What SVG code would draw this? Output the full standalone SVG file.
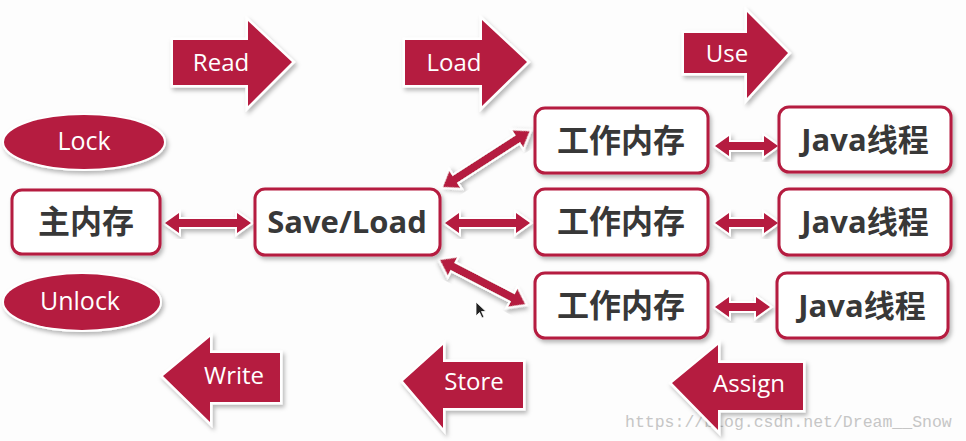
<svg xmlns="http://www.w3.org/2000/svg" width="966" height="441" viewBox="0 0 966 441">
<defs>
<filter id="sh" x="-20%" y="-20%" width="140%" height="150%">
<feDropShadow dx="2" dy="3" stdDeviation="2" flood-color="#000" flood-opacity="0.28"/>
</filter>
<style>
.bg{fill:#fdfdfd}
.big{fill:#b51b3f;stroke:#fff;stroke-width:5;stroke-linejoin:miter;paint-order:stroke;filter:url(#sh)}
.ell{fill:#b51b3f;stroke:#fff;stroke-width:4;paint-order:stroke;filter:url(#sh)}
.dbl{fill:#b51b3f;stroke:#fff;stroke-width:4;stroke-linejoin:miter;paint-order:stroke;filter:url(#sh)}
.box{fill:#fff;stroke:#b51b3f;stroke-width:3;filter:url(#sh)}
.lbl{font-family:"Open Sans","Liberation Sans",sans-serif;font-size:24px;fill:#fff;text-anchor:middle}
.node{font-family:"Open Sans","Noto Sans CJK SC",sans-serif;font-weight:bold;font-size:31px;fill:#383838;text-anchor:middle}
.cjk{font-family:"Noto Sans CJK SC",sans-serif;font-weight:bold;font-size:32px;fill:#383838;text-anchor:middle}
.wm{font-family:"Liberation Mono",monospace;font-size:16.5px;fill:#c6c6c6}
</style>
</defs>
<rect class="bg" x="0" y="0" width="966" height="441"/>
<text class="wm" x="625" y="427">https://blog.csdn.net/Dream__Snow</text>

<g id="read"><polygon class="big" points="173,40 248,40 248,21 292,62 248,106 248,85 173,85"/><text class="lbl" x="221" y="71">Read</text></g>
<g id="load"><polygon class="big" points="405,40 482,40 482,20 527,62 482,106 482,85 405,85"/><text class="lbl" x="454" y="71">Load</text></g>
<g id="use"><polygon class="big" points="684,33 747,33 747,12 788,53 747,98 747,73 684,73"/><text class="lbl" x="727" y="62">Use</text></g>
<g id="write"><polygon class="big" points="163,376 210,337 210,353 280,353 280,402 210,402 210,422"/><text class="lbl" x="234" y="384">Write</text></g>
<g id="store"><polygon class="big" points="403,381 443,345 443,362 523,362 523,408 443,408 443,428"/><text class="lbl" x="474" y="390">Store</text></g>
<g id="assign"><polygon class="big" points="672,383 718,345 718,363 803,363 803,410 718,410 718,430"/><text class="lbl" x="749" y="392">Assign</text></g>

<g id="lock"><ellipse class="ell" cx="84" cy="142" rx="80" ry="27"/><text class="lbl" x="84" y="150" style="font-size:25px">Lock</text></g>
<g id="unlock"><ellipse class="ell" cx="82" cy="302" rx="78" ry="28"/><text class="lbl" x="80" y="310" style="font-size:25px">Unlock</text></g>

<g id="connectors">
<path class="dbl" transform="translate(165,223)" d="M0,0 L14,-10 L14,-4 L72,-4 L72,-10 L86,0 L72,10 L72,4 L14,4 L14,10 Z"/>
<path class="dbl" transform="translate(443,187) rotate(-32.8)" d="M0,0 L14,-10 L14,-4 L89,-4 L89,-10 L103,0 L89,10 L89,4 L14,4 L14,10 Z"/>
<path class="dbl" transform="translate(445,223)" d="M0,0 L14,-10 L14,-4 L71,-4 L71,-10 L85,0 L71,10 L71,4 L14,4 L14,10 Z"/>
<path class="dbl" transform="translate(440,260) rotate(27.4)" d="M0,0 L14,-10 L14,-4 L82,-4 L82,-10 L96,0 L82,10 L82,4 L14,4 L14,10 Z"/>
<path class="dbl" transform="translate(715,146)" d="M0,0 L14,-10 L14,-4 L49,-4 L49,-10 L63,0 L49,10 L49,4 L14,4 L14,10 Z"/>
<path class="dbl" transform="translate(715,223)" d="M0,0 L14,-10 L14,-4 L49,-4 L49,-10 L63,0 L49,10 L49,4 L14,4 L14,10 Z"/>
<path class="dbl" transform="translate(715,307)" d="M0,0 L14,-10 L14,-4 L41,-4 L41,-10 L55,0 L41,10 L41,4 L14,4 L14,10 Z"/>
</g>

<g id="main"><rect class="box" x="12" y="190" width="148" height="64" rx="10"/><text class="cjk" x="86" y="233">主内存</text></g>
<g id="saveload"><rect class="box" x="255" y="189" width="185" height="66" rx="10"/><text class="node" x="347" y="233">Save/Load</text></g>
<g id="work1"><rect class="box" x="535" y="108" width="173" height="65" rx="10"/><text class="cjk" x="621" y="152">工作内存</text></g>
<g id="work2"><rect class="box" x="535" y="189" width="173" height="66" rx="10"/><text class="cjk" x="621" y="233">工作内存</text></g>
<g id="work3"><rect class="box" x="535" y="273" width="173" height="65" rx="10"/><text class="cjk" x="621" y="317">工作内存</text></g>
<g id="java1"><rect class="box" x="779" y="107" width="172" height="65" rx="10"/><text class="node" x="865" y="151">Java线程</text></g>
<g id="java2"><rect class="box" x="779" y="189" width="172" height="66" rx="10"/><text class="node" x="865" y="233">Java线程</text></g>
<g id="java3"><rect class="box" x="777" y="273" width="171" height="65" rx="10"/><text class="node" x="862" y="317">Java线程</text></g>

<path d="M476,302 L476,316 L479.5,312.5 L482,318 L484,317 L481.5,311.5 L486,311.5 Z" fill="#222" stroke="#fff" stroke-width="0.8"/>
</svg>
